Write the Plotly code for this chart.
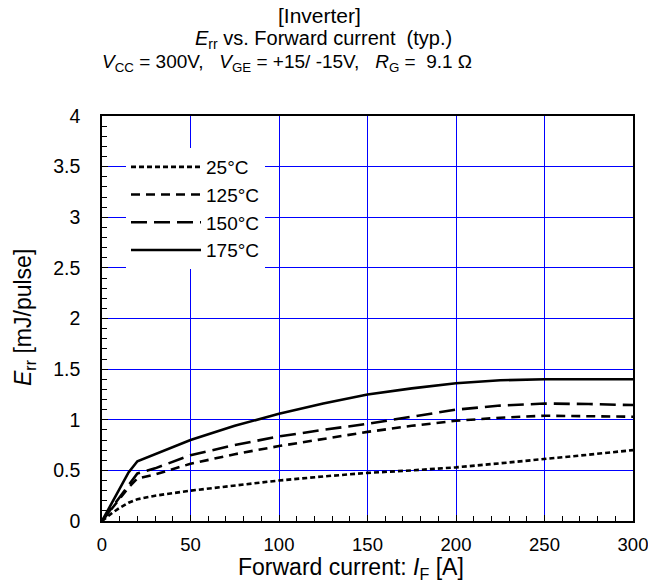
import plotly.graph_objects as go

# Reverse-recovery loss vs forward current, one curve per junction temperature
current_a = [0, 5, 10, 15, 20, 30, 50, 75, 100, 125, 150, 175, 200, 225, 250, 275, 300]

err_25c = [0, 0.07, 0.13, 0.18, 0.215, 0.25, 0.30, 0.35, 0.40, 0.44, 0.475, 0.50, 0.53, 0.57, 0.61, 0.655, 0.70]
err_125c = [0, 0.11, 0.22, 0.33, 0.42, 0.46, 0.565, 0.66, 0.74, 0.81, 0.88, 0.94, 0.99, 1.02, 1.04, 1.035, 1.03]
err_150c = [0, 0.12, 0.24, 0.36, 0.47, 0.52, 0.65, 0.75, 0.835, 0.90, 0.96, 1.03, 1.10, 1.14, 1.16, 1.155, 1.145]
err_175c = [0, 0.16, 0.32, 0.48, 0.59, 0.66, 0.80, 0.94, 1.06, 1.16, 1.25, 1.31, 1.36, 1.39, 1.40, 1.40, 1.40]

series_names = ["25°C", "125°C", "150°C", "175°C"]
series_values = [err_25c, err_125c, err_150c, err_175c]
series_dash = ["5px,3px", "9px,6px", "16px,7px", "solid"]

x_ticks = [0, 50, 100, 150, 200, 250, 300]
y_ticks = [0, 0.5, 1, 1.5, 2, 2.5, 3, 3.5, 4]
y_tick_text = ["0", "0.5", "1", "1.5", "2", "2.5", "3", "3.5", "4"]

FONT = "Liberation Sans, Arial, sans-serif"
L, R, T, B = 102, 15, 116, 61
PW, PH = 648 - L - R, 582 - T - B


def px_x(xpx):
    return (xpx - L) / PW


def px_y(ypx):
    return 1 - (ypx - T) / PH


fig = go.Figure()
for name, vals, dash in zip(series_names, series_values, series_dash):
    fig.add_trace(go.Scatter(
        x=current_a, y=vals, name=name, mode="lines",
        line=dict(color="black", width=2.6, dash=dash),
    ))

fig.update_layout(
    width=648, height=582,
    margin=dict(l=L, r=R, t=T, b=B, autoexpand=False),
    paper_bgcolor="white", plot_bgcolor="white",
    font=dict(family=FONT, size=20, color="black"),
    showlegend=True,
    legend=dict(
        x=px_x(126), y=px_y(148), xanchor="left", yanchor="top",
        bgcolor="white", borderwidth=0,
        font=dict(family=FONT, size=19, color="black"),
        itemwidth=70, tracegroupgap=0,
    ),
    xaxis=dict(
        range=[0, 300], tickvals=x_ticks, ticktext=[str(v) for v in x_ticks],
        showgrid=True, gridcolor="#0000ff", gridwidth=1,
        showline=True, linecolor="black", linewidth=1.5, mirror=True,
        ticks="inside", ticklen=6, tickcolor="black",
        minor=dict(dtick=10, ticks="inside", ticklen=5, tickcolor="black", showgrid=False),
        zeroline=False, ticklabelstandoff=6, automargin=False,
        ticklabeloverflow="allow",
        tickfont=dict(size=18.5),
    ),
    yaxis=dict(
        range=[0, 4], tickvals=y_ticks, ticktext=y_tick_text,
        showgrid=True, gridcolor="#0000ff", gridwidth=1,
        showline=True, linecolor="black", linewidth=1.5, mirror=True,
        ticks="inside", ticklen=6, tickcolor="black",
        minor=dict(dtick=0.1, ticks="inside", ticklen=5, tickcolor="black", showgrid=False),
        zeroline=False, ticklabelstandoff=16, automargin=False,
        tickfont=dict(size=19.5),
    ),
)

# Axis titles
fig.add_annotation(
    text="Forward current: <i>I</i><sub>F</sub> [A]", xref="paper", yref="paper",
    x=px_x(351), y=px_y(568), xanchor="center", yanchor="middle", showarrow=False,
    font=dict(family=FONT, size=23, color="black"),
)
fig.add_annotation(
    text="<i>E</i><sub>rr</sub> [mJ/pulse]", xref="paper", yref="paper",
    x=px_x(24), y=px_y(318), xanchor="center", yanchor="middle", showarrow=False,
    textangle=-90, font=dict(family=FONT, size=23, color="black"),
)

# Three-line heading above the plot area: (text, size, centre x px, centre y px)
title_lines = [
    ("[Inverter]", 21, 319, 15),
    ("<i>E</i><sub>rr</sub> vs. Forward current  (typ.)", 20, 323, 40),
    ("<i>V</i><sub>CC</sub> = 300V,   <i>V</i><sub>GE</sub> = +15/ -15V,   <i>R</i><sub>G</sub> =  9.1 Ω", 19, 287, 63),
]
for text, size, xpx, ypx in title_lines:
    fig.add_annotation(
        text=text, xref="paper", yref="paper",
        x=px_x(xpx), y=px_y(ypx),
        xanchor="center", yanchor="middle", showarrow=False,
        font=dict(family=FONT, size=size, color="black"),
    )

fig.write_html("out.html")
